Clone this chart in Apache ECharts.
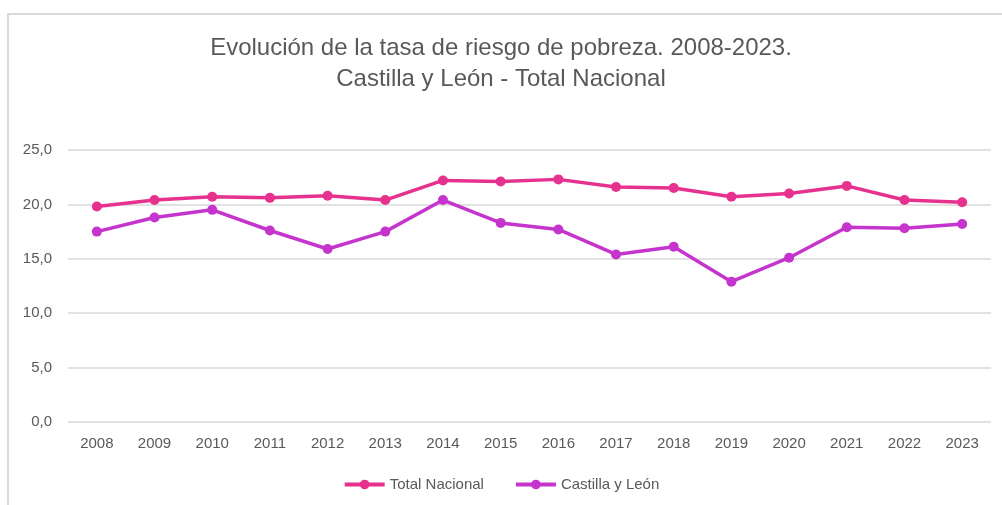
<!DOCTYPE html>
<html>
<head>
<meta charset="utf-8">
<script src="https://cdn.jsdelivr.net/npm/echarts@6/dist/echarts.min.js"></script>
<style>
  html, body { margin: 0; padding: 0; background: #fff; }
  #frame {
    position: absolute; left: 7px; top: 13px; width: 995px; height: 492px;
    border-left: 2px solid #d9d9d9; border-top: 2px solid #d9d9d9; box-sizing: border-box;
  }
  #chart { position: absolute; left: 0; top: 0; width: 1002px; height: 505px; }
</style>
</head>
<body>
<div id="frame"></div>
<div id="chart"></div>
<script>
// años y tasas (%)
var years = ['2008', '2009', '2010', '2011', '2012', '2013', '2014', '2015',
             '2016', '2017', '2018', '2019', '2020', '2021', '2022', '2023'];
var totalNacional = [19.8, 20.4, 20.7, 20.6, 20.8, 20.4, 22.2, 22.1,
                     22.3, 21.6, 21.5, 20.7, 21.0, 21.7, 20.4, 20.2];
var castillaLeon = [17.5, 18.8, 19.5, 17.6, 15.9, 17.5, 20.4, 18.3,
                    17.7, 15.4, 16.1, 12.9, 15.1, 17.9, 17.8, 18.2];

var textColor = '#595959';
var font = 'Liberation Sans';

var chart = echarts.init(document.getElementById('chart'), null, { renderer: 'canvas' });

function serie(name, data, color) {
  return {
    name: name,
    type: 'line',
    data: data,
    symbol: 'circle',
    symbolSize: 10,
    lineStyle: { width: 3.5, color: color },
    itemStyle: { color: color },
    emphasis: { disabled: true },
    animation: false
  };
}

var option = {
  backgroundColor: 'transparent',
  title: {
    text: 'Evolución de la tasa de riesgo de pobreza. 2008-2023.\nCastilla y León - Total Nacional',
    left: 'center',
    top: 28,
    textStyle: {
      fontFamily: font, fontSize: 24, fontWeight: 'normal', color: textColor, lineHeight: 31
    }
  },
  legend: {
    top: 472,
    left: 'center',
    itemWidth: 40,
    itemHeight: 12,
    itemGap: 30,
    lineStyle: { width: 4 },
    textStyle: { fontFamily: font, fontSize: 15, color: textColor },
    data: ['Total Nacional', 'Castilla y León']
  },
  grid: { left: 68, right: 11, top: 150, bottom: 83 },
  xAxis: {
    type: 'category',
    data: years,
    boundaryGap: true,
    axisLine: { show: false },
    axisTick: { show: false },
    axisLabel: { fontFamily: font, fontSize: 15, color: textColor, margin: 14 }
  },
  yAxis: {
    type: 'value',
    min: 0,
    max: 25,
    interval: 5,
    axisLine: { show: false },
    axisTick: { show: false },
    splitLine: { lineStyle: { color: '#d9d9d9', width: 1.5 } },
    axisLabel: {
      fontFamily: font, fontSize: 15, color: textColor, margin: 16,
      formatter: function (v) { return v.toFixed(1).replace('.', ','); }
    }
  },
  series: [
    serie('Total Nacional', totalNacional, '#E6318E'),
    serie('Castilla y León', castillaLeon, '#C535CD')
  ]
};

chart.setOption(option);
</script>
</body>
</html>
